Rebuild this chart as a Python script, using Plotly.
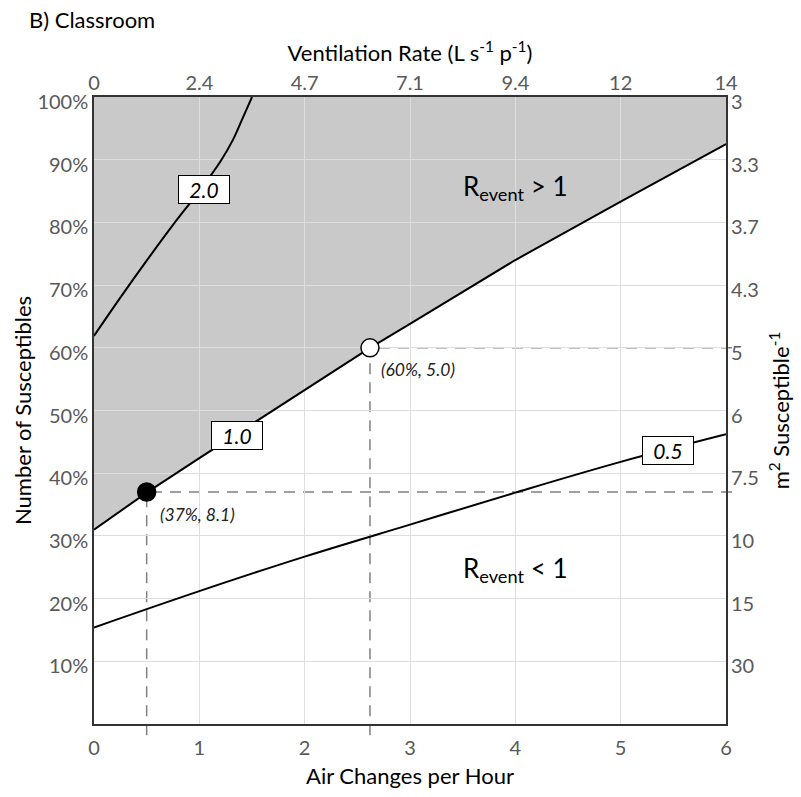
import plotly.graph_objects as go

# ---- data ----
ach_ticks = [0, 1, 2, 3, 4, 5, 6]
vent_ticklabels = ['0', '2.4', '4.7', '7.1', '9.4', '12', '14']
pct_ticks = [10, 20, 30, 40, 50, 60, 70, 80, 90, 100]
pct_ticklabels = ['10%', '20%', '30%', '40%', '50%', '60%', '70%', '80%', '90%', '100%']
area_ticklabels = ['30', '15', '10', '7.5', '6', '5', '4.3', '3.7', '3.3', '3']

r1_ach = [0, 0.5, 1, 2, 2.62, 3, 4, 5, 6]
r1_pct = [31.0, 36.9, 42.4, 53.3, 60.0, 63.8, 74.0, 83.3, 92.5]
r05_ach = [0, 1, 2, 3, 4, 5, 6]
r05_pct = [15.4, 21.2, 26.7, 31.8, 36.9, 41.8, 46.2]
r2_ach = [0, 0.25, 0.5, 0.75, 1.0, 1.2, 1.32, 1.4, 1.5]
r2_pct = [61.9, 68.0, 73.9, 79.6, 85.0, 89.7, 93.2, 96.2, 100.0]

point_ach = [0.5, 2.62]
point_pct = [37, 60]
point_labels = ['(37%, 8.1)', '(60%, 5.0)']
point_colors = ['black', 'white']

contour_labels = ['2.0', '1.0', '0.5']
contour_label_ach = [1.04, 1.36, 5.45]
contour_label_pct = [85.3, 46.0, 43.6]

FONT = 'Lato'
TICKC = '#595959'
fig = go.Figure()

# shaded region above R=1 (as shape below gridlines)
path = 'M ' + ' L '.join(f'{x},{y}' for x, y in zip(r1_ach, r1_pct))
path += f' L {r1_ach[-1]},100 L {r1_ach[0]},100 Z'
shapes = [dict(type='path', path=path, xref='x', yref='y', layer='below',
               fillcolor='#c9c9c9', line=dict(width=0))]

# dashed guides
for xa in point_ach:
    shapes.append(dict(type='line', xref='x', yref='paper', x0=xa, x1=xa, y0=-0.018, y1=1,
                       layer='between', line=dict(color='#808080', width=1.5, dash='11px,8px')))
for yp in point_pct:
    shapes.append(dict(type='line', xref='paper', yref='y', x0=0, x1=1.015, y0=yp, y1=yp,
                       layer='between', line=dict(color='#808080', width=1.5, dash='11px,8px')))

# contour lines
fig.add_trace(go.Scatter(x=r1_ach, y=r1_pct, mode='lines', line=dict(color='black', width=2),
                         hoverinfo='skip', showlegend=False))
fig.add_trace(go.Scatter(x=r05_ach, y=r05_pct, mode='lines', line=dict(color='black', width=2, shape='spline'),
                         hoverinfo='skip', showlegend=False))
fig.add_trace(go.Scatter(x=r2_ach, y=r2_pct, mode='lines', line=dict(color='black', width=2, shape='spline'),
                         hoverinfo='skip', showlegend=False))

# points
fig.add_trace(go.Scatter(x=point_ach, y=point_pct, mode='markers',
                         marker=dict(size=18, color=point_colors, line=dict(color='black', width=1.5)),
                         hoverinfo='skip', showlegend=False))

# invisible trace for secondary axes
fig.add_trace(go.Scatter(x=[0, 6], y=[0, 100], xaxis='x2', yaxis='y2', mode='markers',
                         marker=dict(opacity=0), hoverinfo='skip', showlegend=False))

annotations = []
for t, xa, yp in zip(contour_labels, contour_label_ach, contour_label_pct):
    annotations.append(dict(x=xa, y=yp, xref='x', yref='y', text=f'<i>{t}</i>', showarrow=False,
                            font=dict(family=FONT, size=21, color='black'),
                            bgcolor='white', bordercolor='black', borderwidth=1,
                            width=50, height=27, borderpad=0))
point_label_offsets = [(0.48, -3.6), (0.46, -3.5)]
for t, xa, yp, (dx, dy) in zip(point_labels, point_ach, point_pct, point_label_offsets):
    annotations.append(dict(x=xa + dx, y=yp + dy, xref='x', yref='y', text=f'<i>{t}</i>', showarrow=False,
                            font=dict(family=FONT, size=17.5, color='#222')))
annotations.append(dict(x=4.0, y=85.6, xref='x', yref='y', text='R<sub>event</sub> > 1', showarrow=False,
                        font=dict(family=FONT, size=26, color='black')))
annotations.append(dict(x=4.0, y=24.6, xref='x', yref='y', text='R<sub>event</sub> < 1', showarrow=False,
                        font=dict(family=FONT, size=26, color='black')))
annotations.append(dict(x=-0.106, y=1.123, xref='paper', yref='paper', xanchor='left', yanchor='middle',
                        text='B) Classroom', showarrow=False, font=dict(family=FONT, size=22, color='black')))

fig.update_layout(
    width=801, height=797,
    margin=dict(l=94, r=75, t=97, b=68),
    paper_bgcolor='white', plot_bgcolor='white',
    font=dict(family=FONT),
    shapes=shapes, annotations=annotations,
    xaxis=dict(range=[0, 6], tickvals=ach_ticks, ticktext=[str(v) for v in ach_ticks],
               showgrid=True, gridcolor='#dedede', gridwidth=1,
               showline=True, linecolor='#333', linewidth=1.5, mirror=True,
               ticks='', ticklabelstandoff=5,
               tickfont=dict(family=FONT, size=20, color=TICKC), zeroline=False,
               title=dict(text='Air Changes per Hour', font=dict(family=FONT, size=22, color='black'), standoff=11)),
    yaxis=dict(range=[0, 100], tickvals=pct_ticks, ticktext=pct_ticklabels,
               showgrid=True, gridcolor='#dedede', gridwidth=1,
               showline=True, linecolor='#333', linewidth=1.5, mirror=True,
               ticks='', ticklabelshift=5,
               tickfont=dict(family=FONT, size=20, color=TICKC), zeroline=False,
               title=dict(text='Number of Susceptibles', font=dict(family=FONT, size=22, color='black'), standoff=0)),
    xaxis2=dict(range=[0, 6], overlaying='x', side='top', tickvals=ach_ticks, ticktext=vent_ticklabels,
                showgrid=False, zeroline=False, showline=False, ticks='', ticklabelstandoff=2,
                tickfont=dict(family=FONT, size=20, color=TICKC),
                title=dict(text='Ventilation Rate (L s<sup>-1</sup> p<sup>-1</sup>)',
                           font=dict(family=FONT, size=22, color='black'), standoff=2)),
    yaxis2=dict(range=[0, 100], overlaying='y', side='right', tickvals=pct_ticks, ticktext=area_ticklabels,
                showgrid=False, zeroline=False, showline=False, ticks='',
                ticklabelshift=5, ticklabelstandoff=4,
                tickfont=dict(family=FONT, size=20, color=TICKC),
                title=dict(text='m<sup>2</sup> Susceptible<sup>-1</sup>',
                           font=dict(family=FONT, size=22, color='black'), standoff=15)),
)

fig.write_html('out.html')
